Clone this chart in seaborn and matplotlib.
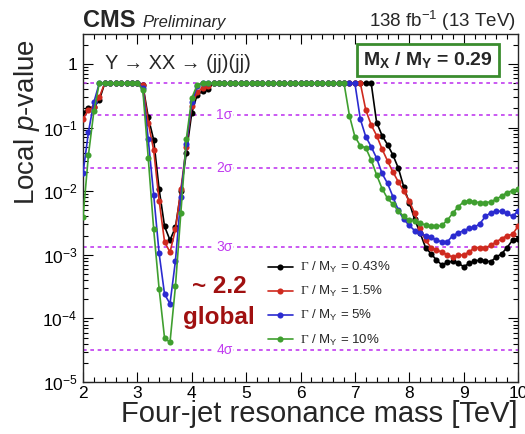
import numpy as np
import pandas as pd
import matplotlib
matplotlib.use("Agg")
import matplotlib.pyplot as plt
import seaborn as sns
from matplotlib.ticker import LogLocator, MultipleLocator, NullFormatter, FuncFormatter

# ---------------- data ----------------
mass = [2.0, 2.1, 2.2, 2.3, 2.4, 2.5, 2.6, 2.7, 2.8, 2.9,
        3.0, 3.1, 3.2, 3.3, 3.4, 3.5, 3.6, 3.7, 3.8, 3.9,
        4.0, 4.1, 4.2, 4.3, 4.4, 4.5, 4.6, 4.7, 4.8, 4.9,
        5.0, 5.1, 5.2, 5.3, 5.4, 5.5, 5.6, 5.7, 5.8, 5.9,
        6.0, 6.1, 6.2, 6.3, 6.4, 6.5, 6.6, 6.7, 6.8, 6.9,
        7.0, 7.1, 7.2, 7.3, 7.4, 7.5, 7.6, 7.7, 7.8, 7.9,
        8.0, 8.1, 8.2, 8.3, 8.4, 8.5, 8.6, 8.7, 8.8, 8.9,
        9.0, 9.1, 9.2, 9.3, 9.4, 9.5, 9.6, 9.7, 9.8, 9.9,
        10.0]

p_width_043 = [0.17, 0.20, 0.21, 0.27, 0.5, 0.5, 0.5, 0.5, 0.5, 0.5,
               0.5, 0.47, 0.145, 0.064, 0.0107, 0.0028, 0.0017, 0.0027, 0.0099, 0.040,
               0.17, 0.33, 0.37, 0.40, 0.5, 0.5, 0.5, 0.5, 0.5, 0.5,
               0.5, 0.5, 0.5, 0.5, 0.5, 0.5, 0.5, 0.5, 0.5, 0.5,
               0.5, 0.5, 0.5, 0.5, 0.5, 0.5, 0.5, 0.5, 0.5, 0.5,
               0.5, 0.5, 0.5, 0.5, 0.12, 0.075, 0.054, 0.037, 0.023, 0.0116,
               0.0066, 0.0036, 0.0022, 0.0013, 0.00104, 0.00083, 0.00069, 0.00076, 0.00079, 0.00074,
               0.00065, 0.00073, 0.00079, 0.00083, 0.00080, 0.00078, 0.00092, 0.00104, 0.0013, 0.0017,
               0.0018]

p_width_15 = [0.136, 0.19, 0.21, 0.30, 0.5, 0.5, 0.5, 0.5, 0.5, 0.5,
              0.5, 0.46, 0.12, 0.044, 0.0071, 0.0016, 0.0011, 0.0025, 0.0107, 0.050,
              0.22, 0.36, 0.42, 0.45, 0.5, 0.5, 0.5, 0.5, 0.5, 0.5,
              0.5, 0.5, 0.5, 0.5, 0.5, 0.5, 0.5, 0.5, 0.5, 0.5,
              0.5, 0.5, 0.5, 0.5, 0.5, 0.5, 0.5, 0.5, 0.5, 0.5,
              0.5, 0.5, 0.19, 0.11, 0.075, 0.046, 0.030, 0.020, 0.014, 0.0100,
              0.0070, 0.0045, 0.0026, 0.0017, 0.0013, 0.0012, 0.0011, 0.0010, 0.00092, 0.00098,
              0.0010, 0.0011, 0.0013, 0.0013, 0.0013, 0.0014, 0.0016, 0.0018, 0.0020, 0.0021,
              0.0028]

p_width_5 = [0.019, 0.085, 0.25, 0.5, 0.5, 0.5, 0.5, 0.5, 0.5, 0.5,
             0.5, 0.42, 0.065, 0.0087, 0.00105, 0.00024, 0.00017, 0.0008, 0.0082, 0.055,
             0.25, 0.45, 0.5, 0.5, 0.5, 0.5, 0.5, 0.5, 0.5, 0.5,
             0.5, 0.5, 0.5, 0.5, 0.5, 0.5, 0.5, 0.5, 0.5, 0.5,
             0.5, 0.5, 0.5, 0.5, 0.5, 0.5, 0.5, 0.5, 0.5, 0.5,
             0.5, 0.136, 0.072, 0.050, 0.033, 0.019, 0.0133, 0.0082, 0.0050, 0.0036,
             0.0029, 0.0024, 0.0022, 0.0020, 0.0019, 0.0017, 0.0016, 0.0016, 0.0020, 0.0022,
             0.0024, 0.0026, 0.0027, 0.0031, 0.0040, 0.0046, 0.0049, 0.0048, 0.0045, 0.0040,
             0.0049]

p_width_10 = [0.0039, 0.037, 0.18, 0.5, 0.5, 0.5, 0.5, 0.5, 0.5, 0.5,
              0.5, 0.39, 0.033, 0.0025, 0.00029, 0.000049, 0.000042, 0.00032, 0.0046, 0.066,
              0.29, 0.47, 0.5, 0.5, 0.5, 0.5, 0.5, 0.5, 0.5, 0.5,
              0.5, 0.5, 0.5, 0.5, 0.5, 0.5, 0.5, 0.5, 0.5, 0.5,
              0.5, 0.5, 0.5, 0.5, 0.5, 0.5, 0.5, 0.5, 0.5, 0.154,
              0.072, 0.052, 0.048, 0.031, 0.018, 0.0110, 0.0077, 0.0062, 0.0049, 0.0040,
              0.0035, 0.0034, 0.0032, 0.0029, 0.0028, 0.0028, 0.0029, 0.0035, 0.0045, 0.0057,
              0.0068, 0.0070, 0.0068, 0.0066, 0.0066, 0.0068, 0.0075, 0.0084, 0.0095, 0.0102,
              0.0107]

series_labels = [r"$\mathsf{\Gamma}$ / M$_{\mathrm{Y}}$ = 0.43%",
                 r"$\mathsf{\Gamma}$ / M$_{\mathrm{Y}}$ = 1.5%",
                 r"$\mathsf{\Gamma}$ / M$_{\mathrm{Y}}$ = 5%",
                 r"$\mathsf{\Gamma}$ / M$_{\mathrm{Y}}$ = 10%"]
series_colors = ["#000000", "#cf2a1f", "#2b2bd0", "#3f9f2f"]

sigma_names = ["1σ", "2σ", "3σ", "4σ"]
sigma_pvalues = [0.1587, 0.02275, 0.00135, 3.167e-5]
zero_sigma_pvalue = 0.5

# ---------------- style ----------------
sns.set_theme(style="ticks")
plt.rcParams["font.family"] = ["Liberation Sans", "DejaVu Sans"]
plt.rcParams["mathtext.fontset"] = "custom"
plt.rcParams["mathtext.rm"] = "Liberation Sans"
plt.rcParams["mathtext.it"] = "Liberation Sans:italic"
plt.rcParams["mathtext.bf"] = "Liberation Sans:bold"
plt.rcParams["mathtext.sf"] = "Liberation Serif"
plt.rcParams["axes.linewidth"] = 1.0

fig = plt.figure(figsize=(5.25, 4.34), dpi=100)
ax = fig.add_axes([83 / 525, 1 - 382 / 434, 435 / 525, 348 / 434])

mag = "#c13cf0"
ax.axhline(zero_sigma_pvalue, color=mag, ls=(0, (2.2, 2.2)), lw=1.2, zorder=1)
for name, pv in zip(sigma_names, sigma_pvalues):
    ax.axhline(pv, color=mag, ls=(0, (2.2, 2.2)), lw=1.2, zorder=1)
    ax.text(4.6, pv, name, color=mag, ha="center", va="center", fontsize=10,
            bbox=dict(fc="white", ec="none", pad=0.6), zorder=2)

all_series = [p_width_043, p_width_15, p_width_5, p_width_10]
for vals, lab, col in zip(all_series, series_labels, series_colors):
    df = pd.DataFrame({"mass": mass, "pvalue": vals})
    sns.lineplot(data=df, x="mass", y="pvalue", ax=ax, color=col, lw=1.2,
                 marker="o", markersize=4.4, markeredgewidth=0, label=lab,
                 errorbar=None, zorder=3)

ax.set_yscale("log")
ax.set_xlim(2, 10)
ax.set_ylim(1e-5, 2.96)

ax.xaxis.set_major_locator(MultipleLocator(1))
ax.xaxis.set_minor_locator(MultipleLocator(0.2))
ax.yaxis.set_major_locator(LogLocator(base=10, numticks=10))
ax.yaxis.set_minor_locator(LogLocator(base=10, subs=np.arange(2, 10), numticks=20))
ax.yaxis.set_minor_formatter(NullFormatter())


def yfmt(v, pos):
    e = int(round(np.log10(v)))
    if e == 0:
        return "1"
    return r"$10^{%d}$" % e


ax.yaxis.set_major_formatter(FuncFormatter(yfmt))
ax.xaxis.set_major_formatter(FuncFormatter(lambda v, p: "%d" % round(v)))

ax.tick_params(which="both", direction="in", top=True, right=True, colors="black",
               labelsize=12.5)
ax.tick_params(which="major", length=7, width=0.8)
ax.tick_params(which="minor", length=3.5, width=0.8)
ax.tick_params(axis="x", pad=3)
ax.tick_params(axis="y", pad=4)

ax.set_xlabel("Four-jet resonance mass [TeV]", fontsize=21, ha="right", va="center")
ax.xaxis.set_label_coords(1.0, -0.092)
ax.set_ylabel(r"Local $\mathit{p}$-value", fontsize=20, ha="right", va="center")
ax.yaxis.set_label_coords(-0.128, 0.985)

# legend
leg = ax.legend(loc="upper left", bbox_to_anchor=(0.425, 0.350), frameon=False,
                fontsize=9.5, handlelength=1.9, handletextpad=0.5, labelspacing=0.68,
                borderpad=0, borderaxespad=0)

# annotations
ax.text(2.40, 1.0, "Y → XX → (jj)(jj)", fontsize=14.3, ha="left", va="center")
ax.text(0.793, 0.925, r"M$_{\mathbf{X}}$ / M$_{\mathbf{Y}}$ = 0.29", transform=ax.transAxes,
        fontsize=14, fontweight="bold", ha="center", va="center",
        bbox=dict(boxstyle="square,pad=0.3", fc="white", ec="#3a8c2e", lw=2), zorder=5)
ax.text(4.5, 3.2e-4, "~ 2.2", fontsize=17.5, fontweight="bold", color="#a01010",
        ha="center", va="center")
ax.text(4.5, 1.05e-4, "global", fontsize=17.5, fontweight="bold", color="#a01010",
        ha="center", va="center")

fig.text(83 / 525, 1 - 27 / 434, "CMS", fontsize=17, fontweight="bold", ha="left", va="baseline")
fig.text(142 / 525, 1 - 27 / 434, "Preliminary", fontsize=12, style="italic", ha="left", va="baseline")
fig.text(516 / 525, 1 - 27 / 434, r"138 fb$^{-1}$ (13 TeV)", fontsize=13.5, ha="right", va="baseline")

fig.savefig("out.png", dpi=100)
